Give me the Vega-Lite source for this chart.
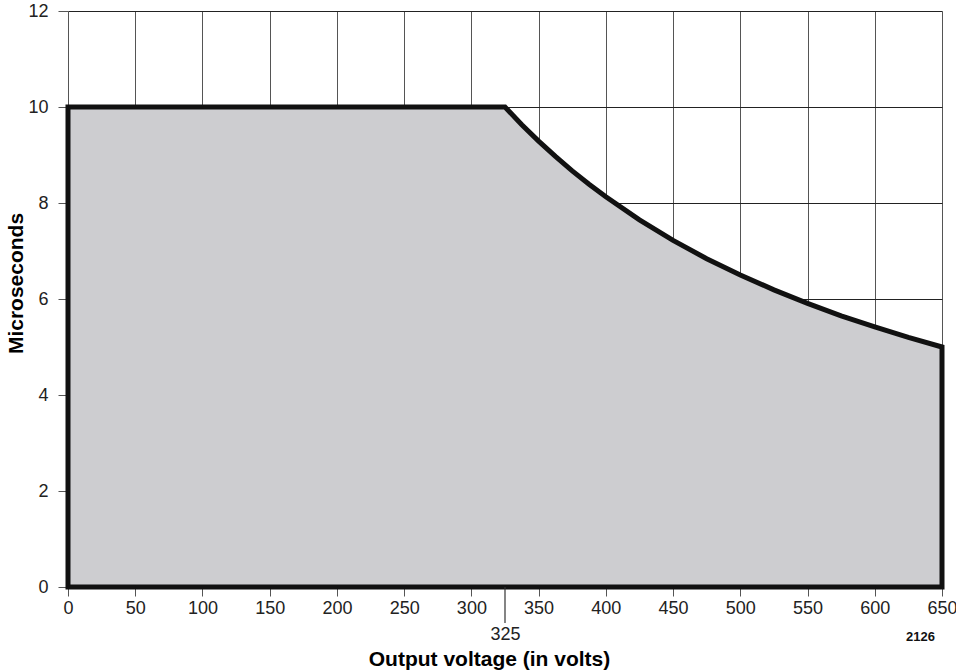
{
  "$schema": "https://vega.github.io/schema/vega-lite/v6.json",
  "width": 874,
  "height": 576,
  "autosize": "none",
  "padding": {"left": 68, "top": 11, "right": 14, "bottom": 83},
  "background": "white",
  "config": {
    "view": {"stroke": null},
    "font": "Liberation Sans"
  },
  "datasets": {
    "curve": [
      {"volts": 0, "us": 10},
      {"volts": 325, "us": 10},
      {"volts": 337.5, "us": 9.63},
      {"volts": 350, "us": 9.29},
      {"volts": 362.5, "us": 8.97},
      {"volts": 375, "us": 8.67},
      {"volts": 387.5, "us": 8.39},
      {"volts": 400, "us": 8.13},
      {"volts": 425, "us": 7.65},
      {"volts": 450, "us": 7.22},
      {"volts": 475, "us": 6.84},
      {"volts": 500, "us": 6.5},
      {"volts": 525, "us": 6.19},
      {"volts": 550, "us": 5.91},
      {"volts": 575, "us": 5.65},
      {"volts": 600, "us": 5.42},
      {"volts": 625, "us": 5.2},
      {"volts": 650, "us": 5.0}
    ],
    "marker": [
      {"volts": 325, "top": 0, "bottom": -0.75}
    ],
    "note": [
      {"volts": 634, "us": -1.04, "label": "2126"}
    ]
  },
  "layer": [
    {
      "data": {"name": "curve"},
      "mark": {
        "type": "area",
        "interpolate": "linear",
        "fill": "#cdcdd0",
        "fillOpacity": 1,
        "stroke": "#111111",
        "strokeWidth": 5,
        "strokeJoin": "miter"
      },
      "encoding": {
        "x": {
          "field": "volts",
          "type": "quantitative",
          "scale": {"domain": [0, 650], "nice": false, "zero": false},
          "axis": {
            "values": [0, 50, 100, 150, 200, 250, 300, 325, 350, 400, 450, 500, 550, 600, 650],
            "title": "Output voltage (in volts)",
            "titleFont": "Liberation Sans",
            "titleFontSize": 21,
            "titleFontWeight": "bold",
            "titleColor": "#000000",
            "titleX": 421,
            "titleY": 78,
            "titleBaseline": "alphabetic",
            "domain": false,
            "grid": true,
            "gridColor": "#555555",
            "gridWidth": 1,
            "gridOpacity": {"condition": {"test": "datum.value == 325", "value": 0}, "value": 1},
            "tickColor": "#555555",
            "tickWidth": 1,
            "tickOpacity": {"condition": {"test": "datum.value == 325", "value": 0}, "value": 1},
            "tickSize": 9,
            "labelPadding": {"condition": {"test": "datum.value == 325", "value": 29}, "value": 3},
            "labelFont": "Liberation Sans",
            "labelFontSize": 18,
            "labelColor": "#222222",
            "labelOverlap": false,
            "labelFlush": false,
            "labelBound": false
          }
        },
        "y": {
          "field": "us",
          "type": "quantitative",
          "scale": {"domain": [0, 12], "nice": false},
          "axis": {
            "values": [0, 2, 4, 6, 8, 10, 12],
            "title": "Microseconds",
            "titleFont": "Liberation Sans",
            "titleFontSize": 21,
            "titleFontWeight": "bold",
            "titleColor": "#000000",
            "titleY": 272,
            "titlePadding": 1,
            "domain": false,
            "grid": true,
            "gridColor": "#222222",
            "gridWidth": 1,
            "tickColor": "#555555",
            "tickWidth": 1,
            "tickSize": 10,
            "labelPadding": 10,
            "labelFont": "Liberation Sans",
            "labelFontSize": 18,
            "labelColor": "#222222"
          }
        }
      }
    },
    {
      "data": {"name": "marker"},
      "mark": {"type": "rule", "color": "#333333", "strokeWidth": 1.2, "clip": false},
      "encoding": {
        "x": {"field": "volts", "type": "quantitative"},
        "y": {"field": "top", "type": "quantitative"},
        "y2": {"field": "bottom"}
      }
    },
    {
      "data": {"name": "note"},
      "mark": {
        "type": "text",
        "font": "Liberation Sans",
        "fontSize": 13,
        "fontWeight": "bold",
        "color": "#111111",
        "align": "center",
        "baseline": "middle",
        "clip": false
      },
      "encoding": {
        "x": {"field": "volts", "type": "quantitative"},
        "y": {"field": "us", "type": "quantitative"},
        "text": {"field": "label"}
      }
    }
  ]
}
